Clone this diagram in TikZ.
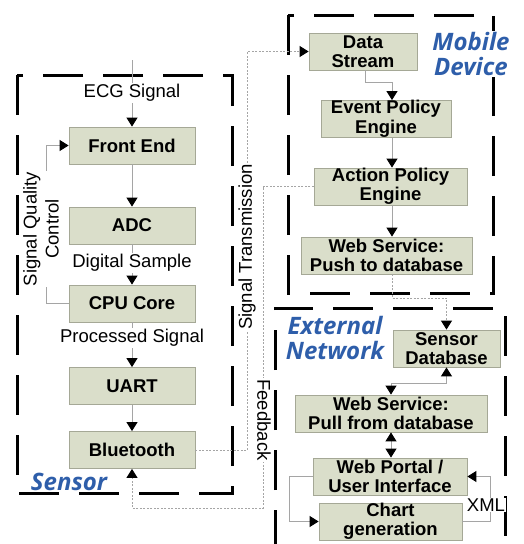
\documentclass[tikz,border=0pt]{standalone}
\usepackage{fontspec}
\setmainfont{Liberation Sans}
\newfontfamily\grpfont{Open Sans}
\usetikzlibrary{arrows.meta}
\definecolor{boxfill}{RGB}{218,222,202}
\definecolor{boxline}{RGB}{165,168,150}
\definecolor{connc}{RGB}{165,165,165}
\definecolor{grpblue}{RGB}{46,94,170}
\begin{document}
\begin{tikzpicture}[x=1pt,y=-1pt,
  >={Triangle[width=11pt,length=9pt,color=black]},
  box/.style={draw=boxline, fill=boxfill, line width=0.8pt, font=\bfseries\fontsize{18.5}{19.5}\selectfont, align=center, inner sep=0pt, minimum height=37pt},
  lbl/.style={fill=white, inner sep=1pt, font=\fontsize{18.5}{22}\selectfont, align=center},
  grp/.style={line width=3pt, dash pattern=on 40pt off 20pt},
  conn/.style={draw=connc, line width=0.9pt},
  dotc/.style={draw=connc, line width=0.9pt, dash pattern=on 2pt off 1.5pt},
  grplbl/.style={text=grpblue, fill=white, font=\grpfont\bfseries\itshape\fontsize{24}{25}\selectfont, align=center, inner sep=1pt}]
\useasboundingbox (0,0) rectangle (524,544);
% group boxes
\draw[grp] (17,75) rectangle (232,493);
\draw[grp] (288,15) rectangle (493,293);
\draw[grp] (275,550) -- (275,308) -- (505,308) -- (505,550);
% sensor nodes
\node[box, minimum width=126pt] (fe) at (132,145.5) {Front End};
\node[box, minimum width=126pt] (adc) at (132,225.5) {ADC};
\node[box, minimum width=126pt] (cpu) at (132,303.5) {CPU Core};
\node[box, minimum width=126pt] (uart) at (132,386) {UART};
\node[box, minimum width=126pt] (bt) at (132,450) {Bluetooth};
% mobile nodes
\node[box, minimum width=108pt] (ds) at (363,51.5) {Data\\Stream};
\node[box, minimum width=130pt] (ev) at (386,119) {Event Policy\\Engine};
\node[box, minimum width=153pt] (act) at (390.5,186.5) {Action Policy\\Engine};
\node[box, minimum width=171pt] (push) at (386.5,255.5) {Web Service:\\Push to database};
% external nodes
\node[box, minimum width=107pt] (sdb) at (446.5,348.5) {Sensor\\Database};
\node[box, minimum width=192pt] (pull) at (391,413.5) {Web Service:\\Pull from database};
\node[box, minimum width=154pt] (portal) at (390,476.5) {Web Portal /\\User Interface};
\node[box, minimum width=143pt] (chart) at (390.5,521.5) {Chart\\generation};
% coordinates
\coordinate (ecgtop) at (132,60);
\coordinate (colx) at (392,0);
\coordinate (fbc) at (263,508);
% sensor connectors
\draw[conn,->] (ecgtop) -- (fe.north);
\draw[conn,->] (fe) -- (adc);
\draw[conn,->] (adc) -- (cpu);
\draw[conn,->] (cpu) -- (uart);
\draw[conn,->] (uart) -- (bt);
\draw[conn,->] (cpu.west) -- ++(-22,0) |- (fe.west);
% transmission / feedback
\draw[dotc,->] (bt.east) -- ++(52,0) |- (ds.west);
\draw[dotc,->] (act.west) -| (fbc) -| (bt.south);
% mobile connectors
\draw[conn,->] ([xshift=2pt]ds.south) -- ++(0,12) -| (ev.north -| colx);
\draw[conn,->] (ev.south -| colx) -- (act.north -| colx);
\draw[conn,->] (act.south -| colx) -- (push.north -| colx);
\draw[dotc,->] (push.south -| colx) -- ++(0,24) -| (sdb.north);
% external connectors
\draw[conn,<->] (sdb.south) -- ++(0,16) -| (pull.north);
\draw[conn,<->] (pull.south) -- (pull.south |- portal.north);
\draw[conn,->] (portal.west) -- ++(-23,0) |- (chart.west);
\draw[conn,->] (chart.east) -- ++(28,0) |- (portal.east);
% labels
\node[lbl] (ecgl) at (132,93) {ECG Signal};
\node[lbl] (dsl) at (132,263) {Digital Sample};
\node[lbl] (psl) at (132,338) {Processed Signal};
\node[lbl, rotate=90] (sqc) at (41,229) {Signal Quality\\Control};
\node[lbl, rotate=90] (stl) at (247,247) {Signal Transmission};
\node[lbl, rotate=-90] (fbl) at (264,420) {Feedback};
\node[lbl] (xmll) at (486,505) {XML};
% group labels
\node[grplbl] (sensl) at (69,482) {Sensor};
\node[grplbl] (mobl) at (471,54) {Mobile\\Device};
\node[grplbl] (extl) at (335,338) {External\\Network};
\end{tikzpicture}
\end{document}
